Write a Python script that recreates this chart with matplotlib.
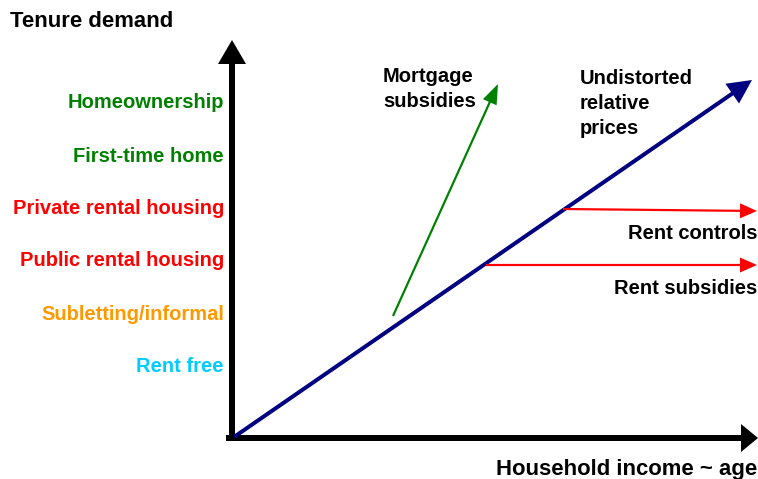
import matplotlib
matplotlib.use("Agg")
import matplotlib.pyplot as plt

# Tenure categories (y-axis labels), from top to bottom
categories = ["Homeownership", "First-time home", "Private rental housing",
              "Public rental housing", "Subletting/informal", "Rent free"]
category_colors = ["#008000", "#008000", "#FF0000", "#FF0000", "#FF9900", "#00CCFF"]
category_y = [102, 156, 208, 261, 314, 366]

# Arrows: (start x, start y, end x, end y) in the diagram's pixel frame
undistorted = (234, 437, 752, 80)
mortgage = (393, 316, 498, 84)
rent_controls = (563, 209, 757, 211)
rent_subsidies = (486, 265, 757, 265)
y_axis = (232, 441, 232, 40)
x_axis = (226, 438, 758, 438)

plt.rcParams['font.family'] = ['Liberation Sans', 'DejaVu Sans']
fig = plt.figure(figsize=(7.58, 4.79), dpi=100)
ax = fig.add_axes([0, 0, 1, 1])
ax.set_xlim(0, 758)
ax.set_ylim(479, 0)
ax.axis('off')

def arrow(seg, color, width, hw, hl):
    x0, y0, x1, y1 = seg
    ax.arrow(x0, y0, x1 - x0, y1 - y0, width=width, head_width=hw, head_length=hl,
             length_includes_head=True, color=color, linewidth=0)

arrow(y_axis, 'black', 6, 28, 24)
arrow(x_axis, 'black', 6, 28, 17)
arrow(undistorted, '#000080', 4, 24, 24)
arrow(mortgage, '#008000', 2.2, 15, 20)
arrow(rent_controls, '#FF0000', 2.2, 15, 17)
arrow(rent_subsidies, '#FF0000', 2.2, 15, 17)

fs = 14.5
fs_title = 15.9
for lab, c, y in zip(categories, category_colors, category_y):
    ax.text(224, y, lab, color=c, ha='right', va='center', fontsize=fs, fontweight='bold')

ax.text(10, 21, "Tenure demand", ha='left', va='center', fontsize=fs_title, fontweight='bold')
ax.text(757, 469, "Household income ~ age", ha='right', va='center', fontsize=fs_title,
        fontweight='bold')
ax.text(383, 89, "Mortgage\nsubsidies", ha='left', va='center', fontsize=fs, fontweight='bold',
        linespacing=1.38)
ax.text(580, 103, "Undistorted\nrelative\nprices", ha='left', va='center', fontsize=fs,
        fontweight='bold', linespacing=1.4)
ax.text(757, 233, "Rent controls", ha='right', va='center', fontsize=fs, fontweight='bold')
ax.text(757, 289, "Rent subsidies", ha='right', va='center', fontsize=fs, fontweight='bold')

fig.savefig("out.png", dpi=100)
